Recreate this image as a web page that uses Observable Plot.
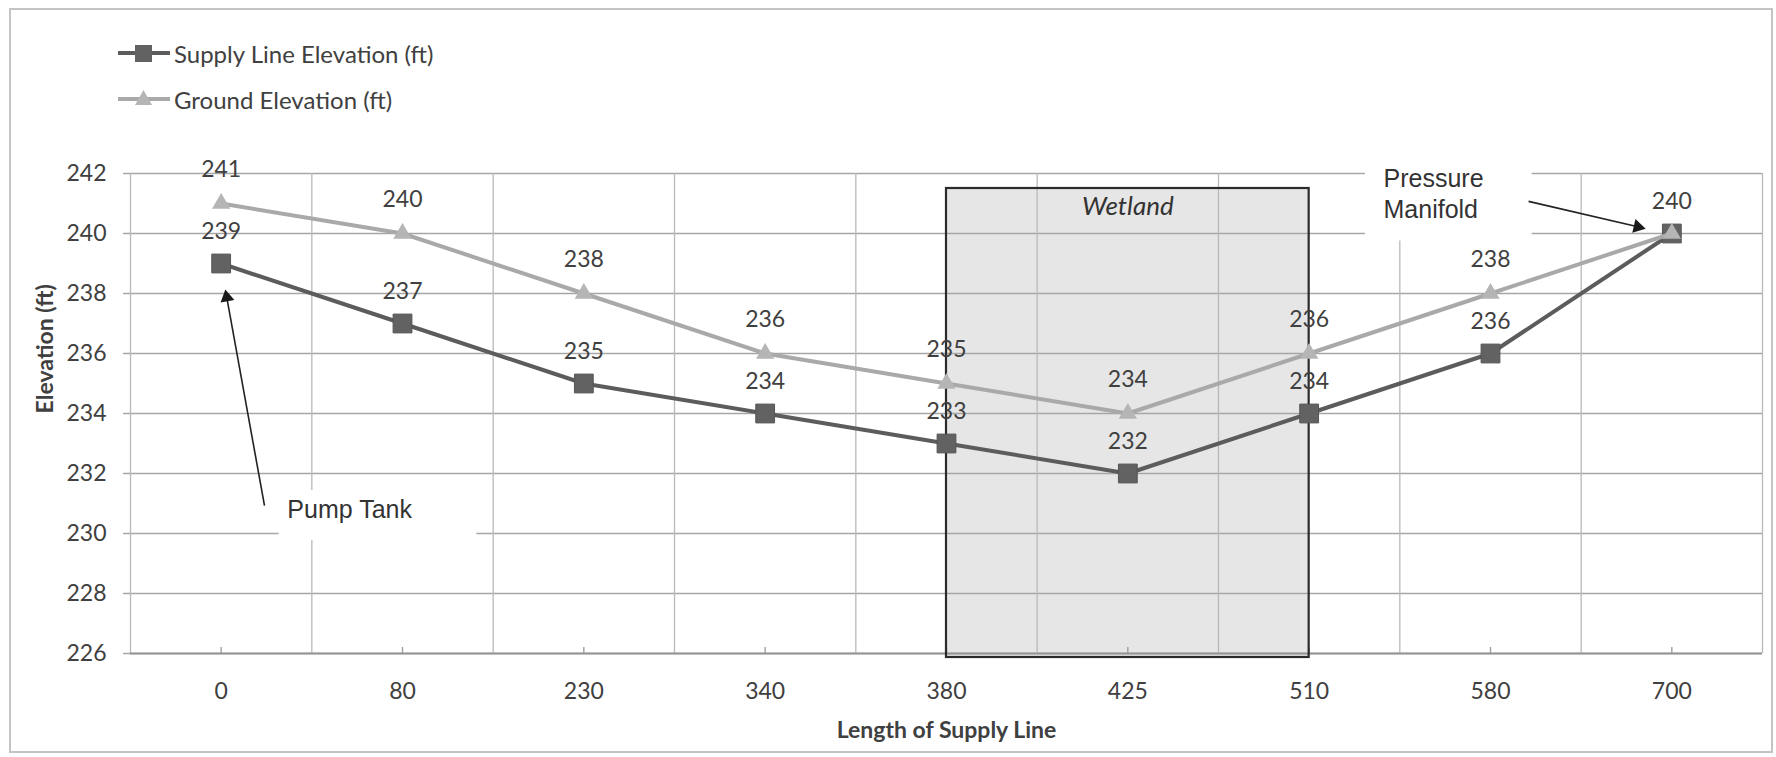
<!DOCTYPE html>
<html>
<head>
<meta charset="utf-8">
<script src="https://cdn.jsdelivr.net/npm/d3@7"></script>
<script src="https://cdn.jsdelivr.net/npm/@observablehq/plot@0.6"></script>
<style>
  body { margin: 0; background: #fff; }
  #wrap { position: relative; width: 1776px; height: 757px; overflow: hidden; }
  #legend { position: relative; height: 130px; font-family: Lato, sans-serif; font-size: 24px; color: #404040; }
  .entry { position: absolute; left: 117px; height: 30px; display: flex; align-items: center; }
  #border { position: absolute; left: 9px; top: 8px; width: 1764px; height: 745px; border: 2px solid #c4c4c4; box-sizing: border-box; pointer-events: none; }
</style>
</head>
<body>
<div id="wrap">
  <div id="legend"></div>
  <div id="chart"></div>
  <div id="border"></div>
</div>
<script>
// ---- data ----
const categories = ["0", "80", "230", "340", "380", "425", "510", "580", "700"];
const supplyElevation = [239, 237, 235, 234, 233, 232, 234, 236, 240];
const groundElevation = [241, 240, 238, 236, 235, 234, 236, 238, 240];
const seriesNames = ["Supply Line Elevation (ft)", "Ground Elevation (ft)"];
const yTicks = [226, 228, 230, 232, 234, 236, 238, 240, 242];
const xTitle = "Length of Supply Line";
const yTitle = "Elevation (ft)";
const wetlandZone = { from: "380", to: "510", top: 241.5, label: "Wetland" };
// annotation anchors in data units (x = category index, y = elevation)
const pumpTank = { text: "Pump Tank", tx: 0.365, ty: 230.77, box: [0.32, 1.41, 229.77, 231.43], from: [0.239, 230.93], tip: [0.024, 238.1] };
const pressureManifold = { text: "Pressure\nManifold", tx: 6.41, ty: 241.38, box: [6.31, 7.23, 239.75, 242.6], from: [7.21, 241.07], tip: [7.85, 240.17] };

// ---- layout ----
const W = 1776, H = 627;
const mL = 130, mR = 14, mT = 43, mB = 104;
const pxX = (W - mL - mR) / categories.length;   // px per category index
const pxY = (H - mT - mB) / (yTicks[yTicks.length - 1] - yTicks[0]); // px per ft

const colors = { supply: "#5c5c5c", supplyMark: "#626262", ground: "#a9a9a9", groundMark: "#b5b5b5" };

// ---- legend ----
const legend = document.getElementById("legend");
[[seriesNames[0], "square", 38], [seriesNames[1], "triangle", 84]].forEach(([name, shape, top]) => {
  const e = document.createElement("div");
  e.className = "entry";
  e.style.top = top + "px";
  const lineColor = shape === "square" ? colors.supply : colors.ground;
  const marker = shape === "square"
    ? `<rect x="18" y="7" width="17" height="17" fill="${colors.supplyMark}"/>`
    : `<path d="M26.5,6 L35,21 L18,21 Z" fill="${colors.groundMark}"/>`;
  e.innerHTML = `<svg width="54" height="30"><line x1="1" x2="53" y1="15" y2="15" stroke="${lineColor}" stroke-width="4"/>${marker}</svg><span style="margin-left:3px">${name}</span>`;
  legend.appendChild(e);
});

// ---- table ----
const idx = categories.map((c, i) => i);
const supply = idx.map(i => ({ i, v: supplyElevation[i] }));
const ground = idx.map(i => ({ i, v: groundElevation[i] }));
// where both series coincide, only one label is shown
const groundLabels = ground.filter(d => d.v !== supplyElevation[d.i]);
const boundaries = categories.map((c, i) => i - 0.5).concat([categories.length - 0.5]);
const wet = [{ x1: categories.indexOf(wetlandZone.from), x2: categories.indexOf(wetlandZone.to), y1: yTicks[0], y2: wetlandZone.top }];

// arrows: shaft ends at arrowhead centre, head rotated in pixel space
function arrowParts(a) {
  const dxp = (a.tip[0] - a.from[0]) * pxX, dyp = -(a.tip[1] - a.from[1]) * pxY;
  const len = Math.hypot(dxp, dyp), ux = dxp / len, uy = dyp / len;
  const back = 7;
  const cx = a.tip[0] - back * ux / pxX, cy = a.tip[1] + back * uy / pxY;
  const rot = Math.atan2(ux, -uy) * 180 / Math.PI;
  return { shaft: { x1: a.from[0], y1: a.from[1], x2: cx, y2: cy }, head: { x: cx, y: cy, r: rot } };
}
const arrows = [pumpTank, pressureManifold].map(arrowParts);
const boxes = [pumpTank, pressureManifold].map(a => ({ x1: a.box[0], x2: a.box[1], y1: a.box[2], y2: a.box[3] }));

const annFont = "'Liberation Sans', Arial, sans-serif";

const chart = Plot.plot({
  width: W, height: H,
  marginLeft: mL, marginRight: mR, marginTop: mT, marginBottom: mB,
  style: { fontFamily: "Lato, sans-serif", fontSize: "23px", color: "#404040", background: "transparent", overflow: "visible" },
  x: { type: "linear", domain: [-0.5, categories.length - 0.5], axis: null },
  y: { domain: [yTicks[0], yTicks[yTicks.length - 1]], axis: null },
  marks: [
    Plot.rect(wet, { x1: "x1", x2: "x2", y1: "y1", y2: "y2", fill: "#e6e6e6", insetBottom: -4 }),
    Plot.ruleY(yTicks, { stroke: "#a6a6a6", strokeWidth: 1.5 }),
    Plot.ruleY(yTicks, { x1: -0.5, x2: -0.5 - 7 / pxX, stroke: "#a6a6a6", strokeWidth: 1.5 }),
    Plot.ruleX(boundaries, { stroke: "#b9b9b9", strokeWidth: 1.3 }),
    Plot.ruleX(idx, { y1: yTicks[0], y2: yTicks[0] + 6 / pxY, stroke: "#999", strokeWidth: 1.3 }),
    Plot.ruleY([yTicks[0]], { stroke: "#959595", strokeWidth: 2 }),
    Plot.rect(wet, { x1: "x1", x2: "x2", y1: "y1", y2: "y2", fill: "none", stroke: "#2b2b2b", strokeWidth: 2.2, insetBottom: -4 }),
    Plot.rect(boxes, { x1: "x1", x2: "x2", y1: "y1", y2: "y2", fill: "white" }),
    Plot.text([wetlandZone.label], { x: (wet[0].x1 + wet[0].x2) / 2, y: wetlandZone.top - 0.62, fontStyle: "italic", fontSize: 26, fill: "#333" }),
    // supply line
    Plot.line(supply, { x: "i", y: "v", stroke: colors.supply, strokeWidth: 4 }),
    Plot.dot(supply, { x: "i", y: "v", symbol: "square", r: 10.6, fill: colors.supplyMark, stroke: "#555", strokeWidth: 1 }),
    // ground line
    Plot.line(ground, { x: "i", y: "v", stroke: colors.ground, strokeWidth: 4 }),
    Plot.dot(ground, { x: "i", y: "v", symbol: "triangle", r: 6.8, fill: colors.groundMark }),
    // data labels
    Plot.text(supply, { x: "i", y: "v", text: d => String(d.v), dy: -32, fill: "#404040", fontSize: 23 }),
    Plot.text(groundLabels, { x: "i", y: "v", text: d => String(d.v), dy: -34, fill: "#404040", fontSize: 23 }),
    // annotations
    Plot.link(arrows.map(a => a.shaft), { x1: "x1", y1: "y1", x2: "x2", y2: "y2", stroke: "#222", strokeWidth: 1.6 }),
    Plot.dot(arrows.map(a => a.head), { x: "x", y: "y", rotate: "r", symbol: "triangle", r: 5.2, fill: "#1a1a1a" }),
    Plot.text([pumpTank], { x: "tx", y: "ty", text: "text", textAnchor: "start", fontFamily: annFont, fontSize: 25, fill: "#333" }),
    Plot.text([pressureManifold], { x: "tx", y: "ty", text: "text", textAnchor: "start", lineHeight: 1.24, fontFamily: annFont, fontSize: 25, fill: "#333" }),
    // axes
    Plot.axisY({ ticks: yTicks, tickSize: 0, tickPadding: 24, fontSize: 23, tickFormat: d => String(d) }),
    Plot.axisX({ ticks: idx, tickSize: 0, tickPadding: 29, fontSize: 23, tickFormat: i => categories[i], label: null }),
    Plot.text([xTitle], { frameAnchor: "bottom", dy: 84, fontWeight: "bold", fontSize: 23, fill: "#404040" }),
    Plot.text([yTitle], { frameAnchor: "left", dx: -85, rotate: -90, fontWeight: "bold", fontSize: 23, fill: "#404040" })
  ]
});
document.getElementById("chart").appendChild(chart);
</script>
</body>
</html>
